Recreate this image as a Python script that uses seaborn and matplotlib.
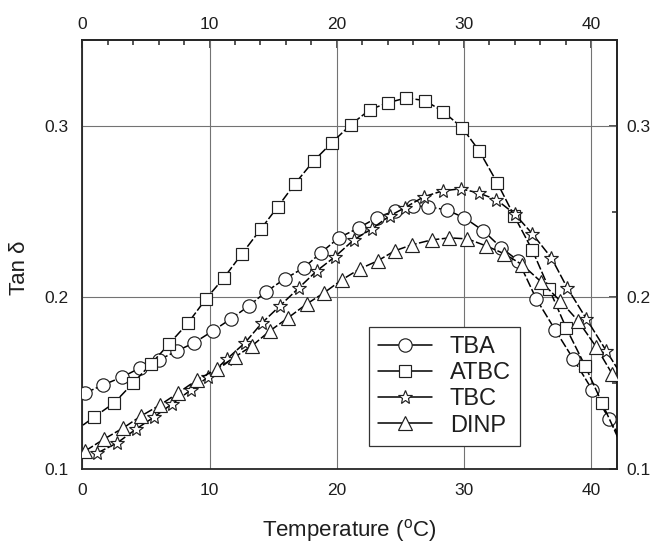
import matplotlib
matplotlib.use("Agg")
import matplotlib.pyplot as plt
from matplotlib.ticker import MultipleLocator
from matplotlib.lines import Line2D
import seaborn as sns

# ---- data ----
names = ["TBA", "ATBC", "TBC", "DINP"]

tba_T = [0.21, 1.63, 3.12, 4.53, 6.02, 7.43, 8.77, 10.26, 11.67, 13.08, 14.42, 15.91,
         17.40, 18.73, 20.15, 21.72, 23.13, 24.54, 25.96, 27.21, 28.63, 30.04, 31.53,
         32.94, 34.28, 35.69, 37.18, 38.60, 40.09, 41.42, 42.7]
tba_V = [0.1443, 0.1490, 0.1536, 0.1589, 0.1636, 0.1688, 0.1735, 0.1805, 0.1875, 0.1950,
         0.2032, 0.2108, 0.2172, 0.2259, 0.2347, 0.2405, 0.2464, 0.2504, 0.2534, 0.2528,
         0.2510, 0.2464, 0.2388, 0.2289, 0.2213, 0.1991, 0.1810, 0.1641, 0.1461, 0.1292,
         0.1130]

atbc_T = [-0.7, 0.92, 2.49, 3.98, 5.39, 6.81, 8.30, 9.71, 11.12, 12.54, 14.03, 15.36,
          16.70, 18.19, 19.60, 21.09, 22.58, 23.99, 25.48, 26.97, 28.38, 29.87, 31.20,
          32.62, 33.95, 35.37, 36.70, 38.04, 39.53, 40.86, 42.7]
atbc_V = [0.1216, 0.1303, 0.1385, 0.1501, 0.1612, 0.1729, 0.1851, 0.1991, 0.2114, 0.2254,
          0.2399, 0.2528, 0.2662, 0.2796, 0.2901, 0.3006, 0.3093, 0.3134, 0.3163, 0.3146,
          0.3082, 0.2988, 0.2854, 0.2668, 0.2475, 0.2277, 0.2050, 0.1822, 0.1601, 0.1385,
          0.1087]

tbc_T = [1.16, 2.73, 4.22, 5.63, 7.04, 8.53, 9.87, 11.36, 12.77, 14.11, 15.52, 17.01,
         18.43, 19.84, 21.33, 22.74, 24.16, 25.34, 26.83, 28.32, 29.74, 31.15, 32.56,
         33.98, 35.39, 36.88, 38.13, 39.63, 41.20, 42.7]
tbc_V = [0.1093, 0.1152, 0.1233, 0.1303, 0.1379, 0.1461, 0.1536, 0.1641, 0.1735, 0.1851,
         0.1950, 0.2055, 0.2155, 0.2236, 0.2335, 0.2399, 0.2475, 0.2522, 0.2586, 0.2621,
         0.2633, 0.2609, 0.2569, 0.2487, 0.2370, 0.2230, 0.2055, 0.1875, 0.1688, 0.1510]

dinp_T = [0.21, 1.71, 3.20, 4.61, 6.10, 7.51, 9.00, 10.57, 11.99, 13.32, 14.74, 16.15,
          17.64, 18.98, 20.39, 21.80, 23.21, 24.55, 25.88, 27.45, 28.86, 30.27, 31.76,
          33.18, 34.59, 36.08, 37.57, 38.98, 40.40, 41.66, 42.7]
dinp_V = [0.1105, 0.1175, 0.1239, 0.1309, 0.1373, 0.1443, 0.1519, 0.1583, 0.1653, 0.1717,
          0.1805, 0.1880, 0.1962, 0.2026, 0.2102, 0.2166, 0.2213, 0.2271, 0.2306, 0.2335,
          0.2347, 0.2341, 0.2300, 0.2254, 0.2190, 0.2090, 0.1980, 0.1863, 0.1711, 0.1554,
          0.1424]

x_ticks = [0, 10, 20, 30, 40]
y_ticks = [0.1, 0.2, 0.3]

# ---- style ----
sns.set_style("white")
plt.rcParams["font.family"] = ["Liberation Sans", "DejaVu Sans"]
plt.rcParams["mathtext.default"] = "regular"
txt = "#1e1e1e"

fig = plt.figure(figsize=(6.5, 5.43), dpi=100)
ax = fig.add_axes([0.1269, 0.1363, 0.8216, 0.79])

series = [
    (names[0], tba_T, tba_V, "o", 9.6),
    (names[1], atbc_T, atbc_V, "s", 9.0),
    (names[2], tbc_T, tbc_V, "*", 10.8),
    (names[3], dinp_T, dinp_V, "^", 10.0),
]
handles = []
for name, T, V, mk, ms in series:
    sns.lineplot(x=T, y=V, ax=ax, color="black", marker=mk, markersize=ms,
                 markerfacecolor="white", markeredgecolor="#202020", markeredgewidth=0.85,
                 linewidth=1.1, linestyle=(0, (6, 1.6)), sort=False, estimator=None,
                 legend=False, zorder=3)
    handles.append(Line2D([], [], color="black", lw=1.1, marker=mk, markersize=ms,
                          markerfacecolor="white", markeredgecolor="#202020",
                          markeredgewidth=0.85, label=name))

ax.set_xlim(0, 42)
ax.set_ylim(0.1, 0.35)
ax.set_xticks(x_ticks)
ax.set_yticks(y_ticks)
ax.xaxis.set_minor_locator(MultipleLocator(2))
ax.yaxis.set_minor_locator(MultipleLocator(0.05))
ax.grid(True, which="major", color="0.45", lw=0.8)
ax.set_axisbelow(True)
for s in ax.spines.values():
    s.set_linewidth(1.3)
    s.set_color("0.15")

ax.tick_params(which="major", direction="out", length=6, width=1.1, labelsize=12.5,
               colors="0.15", labelcolor=txt, pad=4)
ax.tick_params(which="minor", direction="out", length=3.5, width=1.1, colors="0.15")

secx = ax.secondary_xaxis("top")
secx.set_xticks(x_ticks)
secx.xaxis.set_minor_locator(MultipleLocator(2))
secx.tick_params(which="major", direction="in", length=6, width=1.1, labelsize=12.5,
                 colors="0.15", labelcolor=txt, pad=6)
secx.tick_params(which="minor", direction="in", length=3.5, width=1.1, colors="0.15")
secx.spines["top"].set_linewidth(1.3)

secy = ax.secondary_yaxis("right")
secy.set_yticks(y_ticks)
secy.yaxis.set_minor_locator(MultipleLocator(0.05))
secy.tick_params(which="major", direction="in", length=6, width=1.1, labelsize=12.5,
                 colors="0.15", labelcolor=txt, pad=7)
secy.tick_params(which="minor", direction="in", length=3.5, width=1.1, colors="0.15")
secy.spines["right"].set_linewidth(1.3)

ax.set_xlabel("Temperature ($^{o}$C)", fontsize=16, color=txt)
ax.set_ylabel("Tan δ", fontsize=16, color=txt)
ax.xaxis.set_label_coords(0.5, -0.112)
ax.yaxis.set_label_coords(-0.099, 0.469)

leg = ax.legend(handles=handles, loc="upper left",
                bbox_to_anchor=(369 / 650, 1 - 327 / 543), bbox_transform=fig.transFigure,
                frameon=True, fancybox=False, edgecolor="0.2", framealpha=1,
                fontsize=17, handlelength=2.3, handletextpad=0.75, labelspacing=0.18,
                borderpad=0.38, borderaxespad=0)
leg.get_frame().set_linewidth(0.9)
for t in leg.get_texts():
    t.set_color(txt)

fig.savefig("out.png", dpi=100)
